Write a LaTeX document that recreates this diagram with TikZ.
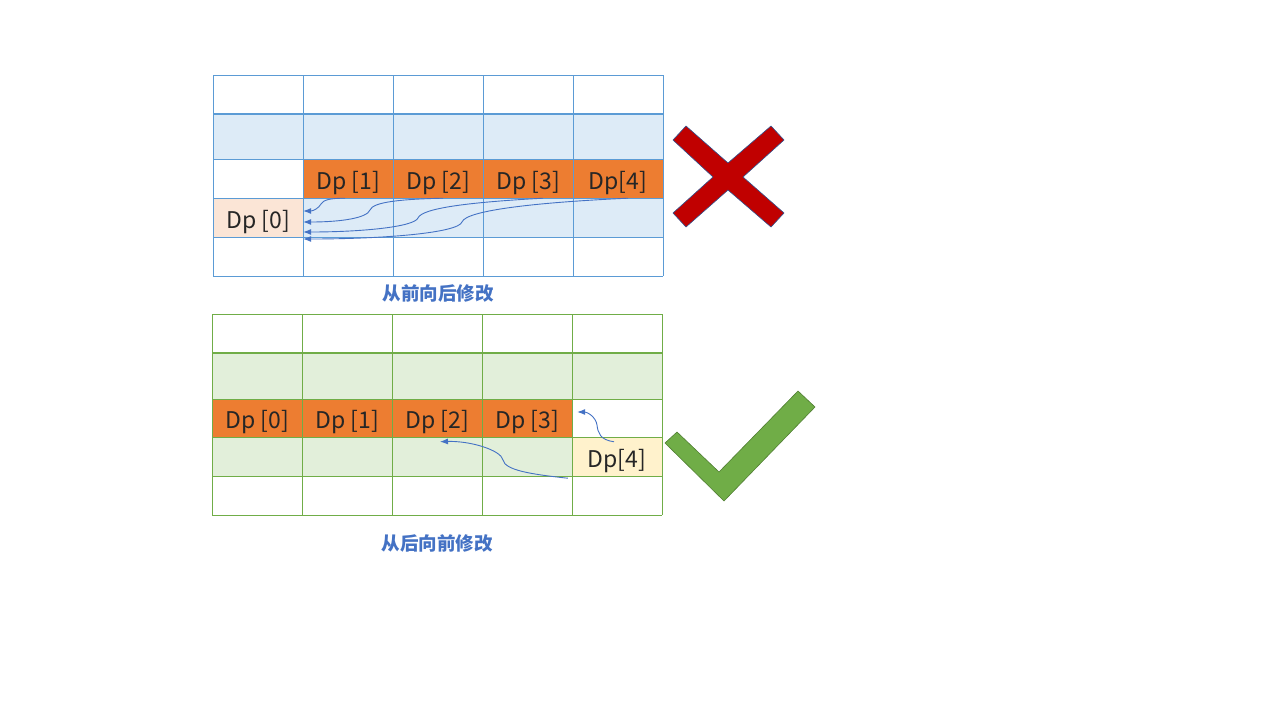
\documentclass[tikz,border=0pt]{standalone}
\usepackage{fontspec}
\setmainfont{Noto Sans CJK SC}
\usetikzlibrary{arrows.meta}

\definecolor{gridblue}{RGB}{91,155,213}
\definecolor{gridgreen}{RGB}{112,173,71}
\definecolor{lightblue}{RGB}{221,235,247}
\definecolor{lightgreen}{RGB}{226,239,218}
\definecolor{dporange}{RGB}{237,125,49}
\definecolor{peach}{RGB}{251,229,214}
\definecolor{paleyellow}{RGB}{255,242,204}
\definecolor{arrowblue}{RGB}{68,114,196}
\definecolor{crossred}{RGB}{192,0,0}
\definecolor{crossedge}{RGB}{47,82,143}
\definecolor{checkgreen}{RGB}{112,173,71}
\definecolor{checkedge}{RGB}{80,126,50}

\tikzstyle{cell}=[rectangle, minimum width=90pt, minimum height=39pt, inner sep=0pt, text height=24pt, text depth=3pt, text=black!85, font=\fontsize{23}{23}\selectfont]
\tikzstyle{move}=[arrowblue, line width=0.9pt, -{Latex[length=8pt,width=6pt]}]
\tikzstyle{caption}=[arrowblue, font=\fontsize{18.5}{18.5}\selectfont\bfseries]

\begin{document}
\begin{tikzpicture}[x=1pt,y=-1pt]
\useasboundingbox (0,0) rectangle (1280,720);

% front to back
\fill[lightblue] (213,114) rectangle (663,159);
\fill[lightblue] (303,198) rectangle (663,237);
\node[cell,fill=peach](a0) at (258,217.5) {Dp [0]};
\node[cell,fill=dporange](a1) at (348,178.5) {Dp [1]};
\node[cell,fill=dporange](a2) at (438,178.5) {Dp [2]};
\node[cell,fill=dporange](a3) at (528,178.5) {Dp [3]};
\node[cell,fill=dporange](a4) at (618,178.5) {Dp[4]};
\foreach \y in {75,159,198,237,276}
    \draw[gridblue, line width=0.8pt] (213,\y) -- (663,\y);
\draw[gridblue, line width=2.5pt] (213,114) -- (663,114);
\foreach \x in {213,303,393,483,573,663}
    \draw[gridblue, line width=0.8pt] (\x,75) -- (\x,276);

\draw[move] ([xshift=-3pt]a1.south) .. controls +(-15,0) and +(2,-4) .. (321,204) .. controls +(-2,4) and +(10,0) .. ([yshift=6.5pt]a0.east);
\draw[move] ([xshift=5pt]a2.south) .. controls +(-43,1) and +(3,-8) .. (370,210) .. controls +(-3,8) and +(38,0) .. ([yshift=-4.5pt]a0.east);
\draw[move] ([xshift=15pt]a3.south) .. controls +(-73,4) and +(4,-10) .. (418,218) .. controls +(-4,9) and +(58,0) .. ([yshift=-14.5pt]a0.east);
\draw[move] ([xshift=10pt]a4.south) .. controls +(-88,4) and +(4,-12) .. (462,222) .. controls +(-4,11) and +(80,0) .. ([yshift=-21.5pt]a0.east);

\node[caption](cap1) at (438,293) {从前向后修改};

% wrong
\draw[crossedge, fill=crossred, line width=0.6pt] (673,140) -- (686,126) -- (728,163) -- (771,126) -- (784,140) -- (743,177) -- (784,213) -- (771,227) -- (728,190) -- (686,227) -- (673,213) -- (713,177) -- cycle;

% back to front
\fill[lightgreen] (212,353) rectangle (662,399);
\fill[lightgreen] (212,437) rectangle (572,476);
\node[cell,fill=dporange](b0) at (257,418) {Dp [0]};
\node[cell,fill=dporange](b1) at (347,418) {Dp [1]};
\node[cell,fill=dporange](b2) at (437,418) {Dp [2]};
\node[cell,fill=dporange](b3) at (527,418) {Dp [3]};
\node[cell,fill=paleyellow](b4) at (617,456.5) {Dp[4]};
\foreach \y in {314,399,437,476,515}
    \draw[gridgreen, line width=0.8pt] (212,\y) -- (662,\y);
\draw[gridgreen, line width=2.5pt] (212,353) -- (662,353);
\foreach \x in {212,302,392,482,572,662}
    \draw[gridgreen, line width=0.8pt] (\x,314) -- (\x,515);

\draw[move] ([xshift=-3pt,yshift=-5pt]b4.north) .. controls +(-14,-2) and +(1,8) .. (597,425) .. controls +(-1,-8) and +(10,0) .. ([xshift=5pt,yshift=6pt]b3.east);
\draw[move] ([xshift=-4pt,yshift=-2pt]b4.south west) .. controls +(-38,-4) and +(2,10) .. (503,460) .. controls +(-2,-10) and +(30,-1) .. ([xshift=3pt,yshift=-4pt]b2.south);

\node[caption](cap2) at (437,543) {从后向前修改};

% right
\draw[checkedge, fill=checkgreen, line width=0.6pt] (665,443) -- (677,432) -- (719,472) -- (798,391) -- (815,407) -- (724,501) -- cycle;
\end{tikzpicture}
\end{document}
